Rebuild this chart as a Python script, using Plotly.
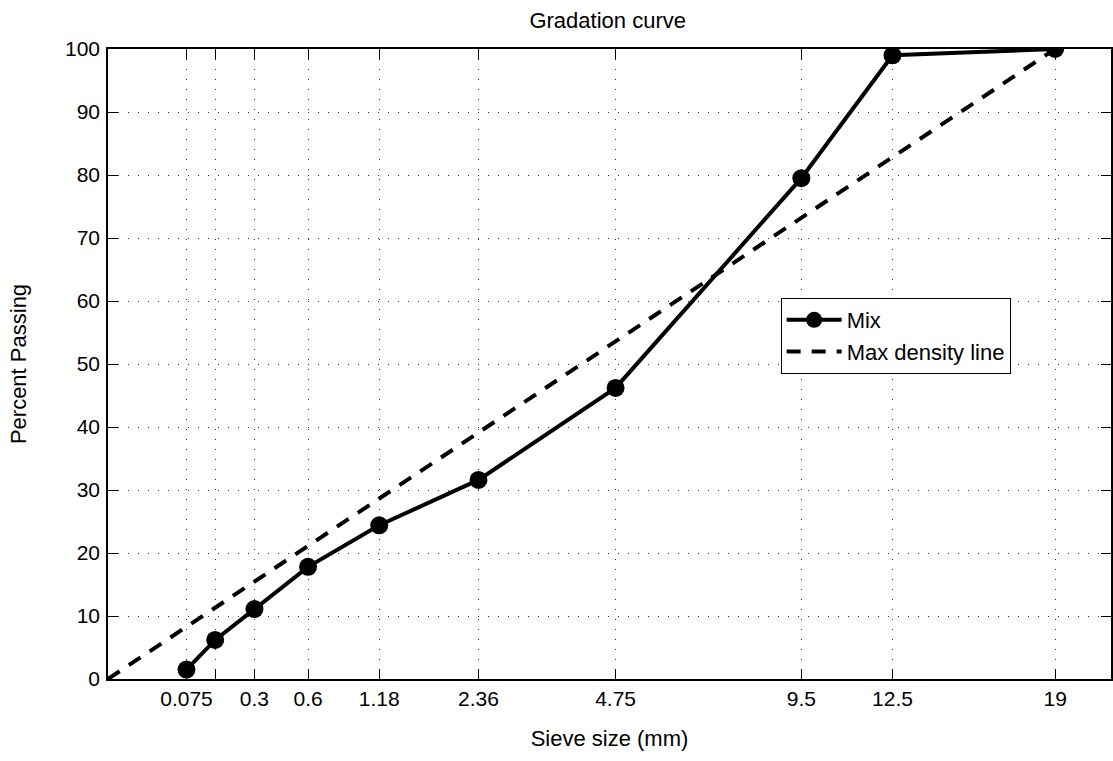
import plotly.graph_objects as go

# Data
sieve_sizes = [0.075, 0.15, 0.3, 0.6, 1.18, 2.36, 4.75, 9.5, 12.5, 19]
mix_passing = [1.5, 6.2, 11.1, 17.8, 24.4, 31.6, 46.2, 79.5, 99.0, 100]
maxd_sizes = [0, 19]
maxd_passing = [0, 100]
tick_sizes = [0.075, 0.15, 0.3, 0.6, 1.18, 2.36, 4.75, 9.5, 12.5, 19]
tick_labels = ["0.075", "", "0.3", "0.6", "1.18", "2.36", "4.75", "9.5", "12.5", "19"]
POWER = 0.45

def tf(v):
    return [s ** POWER for s in v]

FONT = "Liberation Sans, Arial, Helvetica, sans-serif"

fig = go.Figure()
fig.add_trace(go.Scatter(
    x=tf(sieve_sizes), y=mix_passing, name="Mix", mode="lines+markers",
    line=dict(color="black", width=4),
    marker=dict(color="black", size=18),
))
fig.add_trace(go.Scatter(
    x=tf(maxd_sizes), y=maxd_passing, name="Max density line", mode="lines",
    line=dict(color="black", width=4, dash="14px,11px"),
))

axis_common = dict(
    showline=True, linecolor="black", linewidth=1.5, mirror="ticks",
    ticks="inside", ticklen=10, tickwidth=1, tickcolor="black",
    showgrid=True, gridcolor="#333333", gridwidth=1, griddash="1px,9px",
    zeroline=False, tickfont=dict(family=FONT, size=21, color="black"),
)

fig.update_layout(
    width=1113, height=761,
    margin=dict(l=108, r=0, t=49, b=82),
    paper_bgcolor="white", plot_bgcolor="white",
    font=dict(family=FONT, size=22, color="black"),
    title=dict(text="Gradation curve", x=0.546, xanchor="center",
               y=1 - 20 / 761, yanchor="middle", yref="container",
               font=dict(family=FONT, size=22, color="black")),
    showlegend=True,
    legend=dict(x=(782 - 108) / 1005, y=(679 - 298) / 630,
                xanchor="left", yanchor="top",
                bgcolor="white", bordercolor="black", borderwidth=1,
                font=dict(family=FONT, size=22, color="black"),
                itemwidth=55, tracegroupgap=0),
)
fig.update_xaxes(
    range=[0, 3.984], tickmode="array", tickvals=tf(tick_sizes), ticktext=tick_labels,
    title=dict(text="Sieve size (mm)", standoff=22,
               font=dict(family=FONT, size=22, color="black")),
    **axis_common,
)
fig.update_yaxes(
    range=[0, 100], tickmode="array", tickvals=list(range(0, 101, 10)),
    ticklabelstandoff=2,
    title=dict(text="Percent Passing", standoff=32,
               font=dict(family=FONT, size=22, color="black")),
    **axis_common,
)

fig.write_html("out.html")
